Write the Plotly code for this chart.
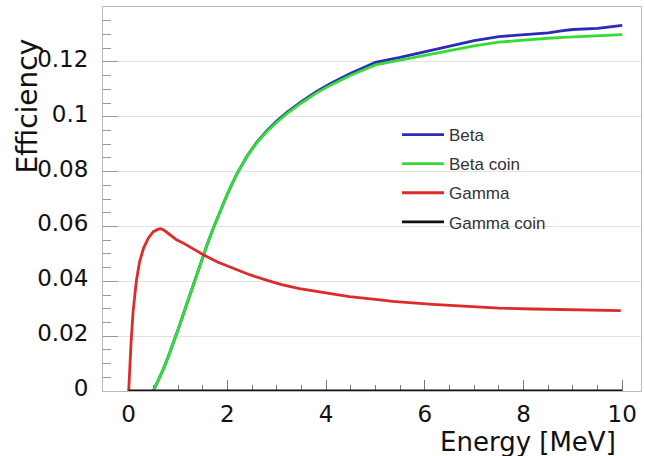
import plotly.graph_objects as go

# ---- data ----
beta_x = [0.5, 0.6, 0.7, 0.8, 0.9, 1.0, 1.1, 1.2, 1.3, 1.4, 1.5, 1.6, 1.7, 1.8, 1.9, 2.0, 2.1,
          2.2, 2.4, 2.6, 2.8, 3.0, 3.2, 3.5, 3.8, 4.1, 4.5, 5.0, 5.5, 6.0, 6.5, 7.0, 7.5, 8.0,
          8.5, 8.8, 9.0, 9.5, 10.0]
beta_y = [0.0, 0.0038, 0.0079, 0.0124, 0.0172, 0.0223, 0.0276, 0.0330, 0.0384, 0.0437, 0.0489,
          0.0539, 0.0587, 0.0633, 0.0677, 0.0718, 0.0757, 0.0794, 0.0857, 0.0908, 0.0949, 0.0984,
          0.1015, 0.1055, 0.1091, 0.1122, 0.1158, 0.1198, 0.1216, 0.1236, 0.1257, 0.1277, 0.1292,
          0.1299, 0.1306, 0.1314, 0.1318, 0.1322, 0.1333]
betacoin_y = [0.0, 0.0038, 0.0079, 0.0124, 0.0172, 0.0223, 0.0276, 0.0330, 0.0384, 0.0437, 0.0489,
              0.0539, 0.0587, 0.0633, 0.0677, 0.0718, 0.0757, 0.0794, 0.0856, 0.0906, 0.0946, 0.0980,
              0.1010, 0.1050, 0.1086, 0.1116, 0.1151, 0.1189, 0.1206, 0.1224, 0.1241, 0.1258, 0.1272,
              0.1280, 0.1286, 0.1289, 0.1291, 0.1295, 0.1299]
gamma_x = [0.0, 0.02, 0.05, 0.09, 0.155, 0.22, 0.3, 0.4, 0.5, 0.6, 0.65, 0.72, 0.8, 0.88, 0.97,
           1.1, 1.23, 1.37, 1.52, 1.8, 2.11, 2.45, 2.79, 3.1, 3.46, 4.0, 4.47, 5.0, 5.35, 6.16,
           6.97, 7.5, 8.19, 9.06, 9.5, 9.97]
gamma_y = [0.0, 0.008, 0.018, 0.029, 0.040, 0.047, 0.052, 0.0558, 0.0581, 0.0590, 0.0592, 0.0586,
           0.0575, 0.0563, 0.0551, 0.0540, 0.0526, 0.0511, 0.0496, 0.0470, 0.0447, 0.0424, 0.0404,
           0.0388, 0.0373, 0.0356, 0.0344, 0.0334, 0.0327, 0.0316, 0.0306, 0.0302, 0.0299, 0.0297,
           0.0295, 0.0293]
gammacoin_x = [0.0, 10.0]
gammacoin_y = [0.0, 0.0]

names = ["Beta", "Beta coin", "Gamma", "Gamma coin"]
colors = ["#2b2bb8", "#33dd33", "#dd2a2a", "#111111"]
xs = [beta_x, beta_x, gamma_x, gammacoin_x]
ys = [beta_y, betacoin_y, gamma_y, gammacoin_y]

x_ticks = [0, 2, 4, 6, 8, 10]
y_ticks = [0, 0.02, 0.04, 0.06, 0.08, 0.1, 0.12]
y_ticklabels = ["0", "0.02", "0.04", "0.06", "0.08", "0.1", "0.12"]

fig = go.Figure()
for n, c, x, y in zip(names, colors, xs, ys):
    fig.add_trace(go.Scatter(x=x, y=y, mode="lines", name=n, legendgroup=n,
                             line=dict(color=c, width=2.8)))

tickfont = dict(family="DejaVu Sans", size=23, color="#111")
fig.update_layout(
    width=645, height=456,
    margin=dict(l=103, r=4, t=7, b=65),
    paper_bgcolor="white", plot_bgcolor="white",
    showlegend=True,
    legend=dict(x=0.5465, y=0.7135, xanchor="left", yanchor="top",
                bgcolor="rgba(0,0,0,0)", borderwidth=0,
                font=dict(family="Liberation Sans", size=17, color="#333"),
                tracegroupgap=4, itemwidth=42),
    xaxis=dict(range=[-0.52, 10.38], tickvals=x_ticks, ticktext=[str(v) for v in x_ticks],
               ticks="inside", ticklen=11, tickcolor="#777", tickwidth=1,
               minor=dict(dtick=0.5, tick0=0, ticks="inside", ticklen=6, tickcolor="#777"),
               showgrid=False, zeroline=False,
               showline=True, linecolor="#bbb", linewidth=1, mirror=True,
               layer="below traces", tickfont=tickfont, ticklabelstandoff=2),
    yaxis=dict(range=[0, 0.14], tickvals=y_ticks, ticktext=y_ticklabels,
               ticks="inside", ticklen=15, tickcolor="#999", tickwidth=1,
               minor=dict(dtick=0.005, tick0=0, ticks="inside", ticklen=8, tickcolor="#999"),
               showgrid=True, gridcolor="#e2e2e2", gridwidth=1, zeroline=False,
               showline=True, linecolor="#bbb", linewidth=1, mirror=True,
               layer="below traces", tickfont=tickfont, ticklabelstandoff=9,
               ticklabelshift=-3),
    annotations=[
        dict(text="Efficiency", xref="paper", yref="paper", x=-0.141, y=0.922,
             xanchor="center", yanchor="top", textangle=-90, showarrow=False,
             font=dict(family="DejaVu Sans", size=28, color="#111")),
        dict(text="Energy [MeV]", xref="paper", yref="paper", x=0.957, y=-0.178,
             xanchor="right", yanchor="bottom", showarrow=False,
             font=dict(family="DejaVu Sans", size=26, color="#111")),
    ],
)

fig.write_html("out.html")
